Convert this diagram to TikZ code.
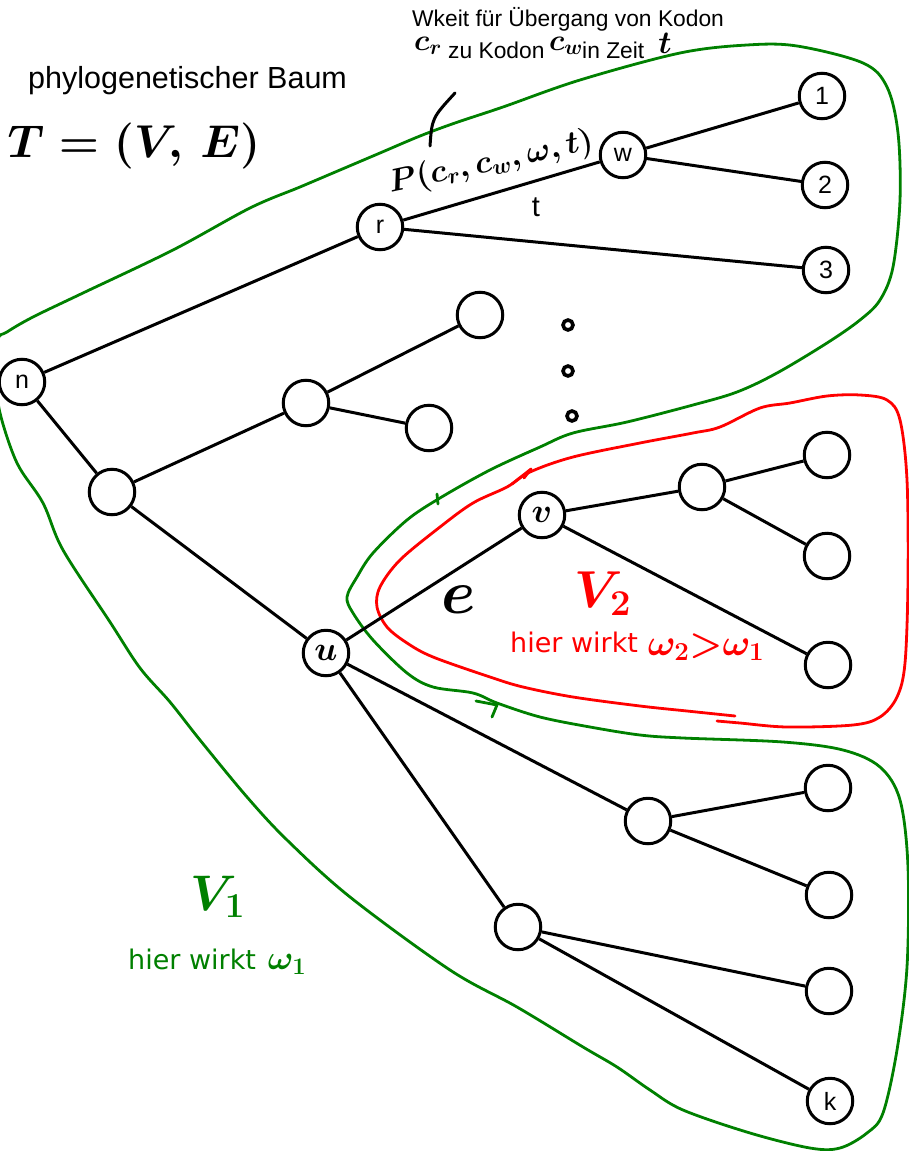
\documentclass[tikz,border=0pt]{standalone}
\usepackage{fix-cm}
\usepackage{fontspec}
\newfontfamily\arialfont{Liberation Sans}
\newfontfamily\dejavufont{DejaVu Sans}
\definecolor{pengreen}{RGB}{0,128,0}
\definecolor{penred}{RGB}{255,0,0}
\newcommand{\setfs}[1]{\fontsize{#1}{#1}\selectfont}
\begin{document}
\begin{tikzpicture}[x=1pt,y=-1pt,
  treenode/.style={circle,draw,line width=3pt,minimum size=45.5pt,inner sep=0pt,font=\arialfont\setfs{25}},
  edge/.style={line width=3pt},
  greenpen/.style={pengreen,line width=2.8pt,line cap=round,line join=round},
  redpen/.style={penred,line width=2.8pt,line cap=round,line join=round},
  ink/.style={line width=3pt,line cap=round},
  dotmark/.style={circle,draw,line width=3.6pt,minimum size=10pt,inner sep=0pt},
  sanslabel/.style={inner sep=0pt,font=\arialfont\setfs{#1}},
  handlabel/.style={inner sep=0pt,font=\setfs{#1}\boldmath},
]
\path[use as bounding box] (0,0) rectangle (909,1151);

% ---- enclosing pen strokes ----
\draw[greenpen] plot[smooth cycle, tension=0.55] coordinates {
 (-2,340) (7,332) (33,317) (83,293) (173,250) (250,208) (300,187) (340,170)
 (380,153) (420,136) (455,123) (503,107) (580,80) (680,53) (747,45) (797,46) (863,63)
 (887,87) (898,133) (900,200) (893,267) (880,300) (860,320) (827,343) (777,373)
 (737,392) (693,405) (627,422) (573,433) (540,447) (490,470) (440,498) (407,520)
 (373,553) (357,577) (347,597) (353,613) (373,640) (407,673) (433,687) (473,693)
 (497,703) (540,717) (590,727) (640,735) (683,738) (783,742) (843,750) (880,767)
 (900,800) (908,867) (907,967) (897,1050) (883,1113) (867,1133) (840,1148) (810,1148)
 (750,1133) (683,1110) (650,1090) (617,1067) (583,1047) (517,1007) (450,970) (350,897)
 (287,840) (247,797) (200,740) (170,702) (140,668) (110,622) (63,550)
 (43,503) (17,463) (0,413) (-3,380)};
\draw[greenpen] (437,494) -- (438,504);
\draw[greenpen] (476,701) -- (497,705) -- (492,717);

\draw[redpen] plot[smooth, tension=0.55] coordinates {
 (735,716) (687,711) (640,706) (573,697) (523,687) (490,677) (433,657) (407,643)
 (387,627) (377,607) (380,587) (400,560) (440,527) (473,503) (507,487) (530,472)
 (573,457) (640,443) (693,433) (720,427) (760,408) (790,403) (827,396) (860,395)
 (887,400) (900,420) (907,480) (908,580) (905,663) (897,697) (880,717) (853,725)
 (787,727) (740,723) (717,721)};
\draw[redpen] (512,484) -- (531,469) -- (524,478);

% ---- tree nodes ----
\node[treenode] (n) at (22,382) {n};
\node[treenode] (r) at (380,227) {r};
\node[treenode] (w) at (623,155) {w};
\node[treenode] (l1) at (822,96) {1};
\node[treenode] (l2) at (825,185) {2};
\node[treenode] (l3) at (826,270) {3};
\node[treenode] (a) at (112,492) {};
\node[treenode] (b) at (306,403) {};
\node[treenode] (c) at (480,315) {};
\node[treenode] (d) at (429,428) {};
\node[treenode,font=\setfs{34}\boldmath] (u) at (326,653) {$u$};
\node[treenode,font=\setfs{34}\boldmath] (v) at (542,515) {$v$};
\node[treenode] (e1) at (702,487) {};
\node[treenode] (f) at (827,455) {};
\node[treenode] (g) at (827,556) {};
\node[treenode] (h) at (828,665) {};
\node[treenode] (i) at (648,821) {};
\node[treenode] (j) at (828,788) {};
\node[treenode] (kk) at (829,895) {};
\node[treenode] (l) at (518,927) {};
\node[treenode] (m) at (829,991) {};
\node[treenode] (k) at (830,1101) {k};

% ---- edges ----
\draw[edge] (n) -- (r);
\draw[edge] (n) -- (a);
\draw[edge] (r) -- (w);
\draw[edge] (r) -- (l3);
\draw[edge] (w) -- (l1);
\draw[edge] (w) -- (l2);
\draw[edge] (a) -- (b);
\draw[edge] (a) -- (u);
\draw[edge] (b) -- (c);
\draw[edge] (b) -- (d);
\draw[edge] (u) -- (v);
\draw[edge] (v) -- (e1);
\draw[edge] (v) -- (h);
\draw[edge] (e1) -- (f);
\draw[edge] (e1) -- (g);
\draw[edge] (u) -- (i);
\draw[edge] (u) -- (l);
\draw[edge] (i) -- (j);
\draw[edge] (i) -- (kk);
\draw[edge] (l) -- (m);
\draw[edge] (l) -- (k);

% ---- dots ----
\node[dotmark] (dot1) at (568,325) {};
\node[dotmark] (dot2) at (568,371) {};
\node[dotmark] (dot3) at (572,416) {};

% ---- texts ----
\node[sanslabel=30.5,anchor=base west] (title) at (28,88) {phylogenetischer Baum};
\node[handlabel=46] (tve) at (134,146) {$T=(V,\,E)$};

\node[sanslabel=22.8,anchor=base west] (wk1) at (412,27) {Wkeit für Übergang von Kodon};
\node[handlabel=30] (cr) at (428,46) {$c_r$};
\node[sanslabel=22.8,anchor=base west] (wk2) at (448,58) {zu Kodon};
\node[handlabel=30] (cw) at (566,46) {$c_w$};
\node[sanslabel=22.8,anchor=base west] (wk3) at (582,58) {in Zeit};
\node[handlabel=32] (tt) at (665,43) {$t$};

\node[handlabel=32,rotate=12] (plabel) at (491,163) {$P(c_r,c_w,\omega,t)$};
\coordinate (ps1) at (430,146);
\coordinate (ps2) at (455,93);
\draw[ink] (ps1) .. controls (432,118) .. (ps2);
\node[sanslabel=29] (tlabel) at (536,207) {t};

\node[handlabel=62] (elabel) at (459,600) {$e$};

\node[handlabel=52,text=penred] (v2) at (603,594) {$V_2$};
\node[inner sep=0pt,font=\dejavufont\setfs{27},text=penred,anchor=base west] (hw2) at (510,652) {hier wirkt};
\node[handlabel=37,text=penred] (om2) at (706,647) {$\omega_2{>}\omega_1$};

\node[handlabel=50,text=pengreen] (v1) at (218,897) {$V_1$};
\node[inner sep=0pt,font=\dejavufont\setfs{27},text=pengreen,anchor=base west] (hw1) at (128,969) {hier wirkt};
\node[handlabel=34,text=pengreen] (om1) at (287,964) {$\omega_1$};
\end{tikzpicture}
\end{document}
